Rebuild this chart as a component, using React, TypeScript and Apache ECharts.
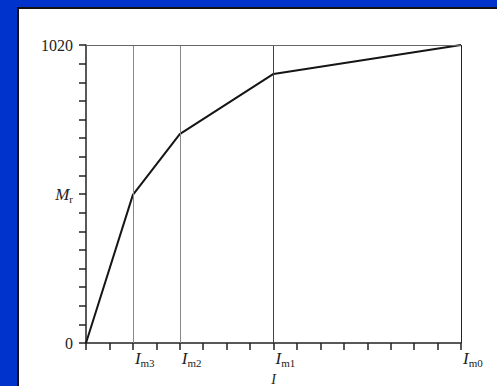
import React, { useEffect, useRef } from "react";
import * as echarts from "echarts";

const currentValues = [0, 2, 4, 8, 16];
const torqueValues = [0, 507, 715, 921, 1020];
const markerPositions = [2, 4, 8, 16];
const markerSubscripts = ["m3", "m2", "m1", "m0"];
const yMax = 1020;
const yTickCount = 16;
const xMax = 16;

export default function App() {
  const ref = useRef<HTMLDivElement>(null);
  useEffect(() => {
    document.body.style.margin = "0";
    const chart = echarts.init(ref.current!, null, { renderer: "svg" });
    const serif = "Liberation Serif";
    const rich = {
      i: { fontFamily: serif, fontStyle: "italic", fontSize: 17, color: "#222" },
      s: { fontFamily: serif, fontSize: 11, color: "#222", padding: [9, 0, 0, 0] },
    };
    chart.setOption({
      animation: false,
      backgroundColor: "#0033cc",
      graphic: [
        { type: "rect", shape: { x: 17, y: 7, width: 490, height: 390 }, style: { fill: "#111" }, z: -10 },
        { type: "rect", shape: { x: 19, y: 9, width: 490, height: 390 }, style: { fill: "#ffffff" }, z: -9 },
      ],
      grid: { left: 86, top: 45, right: 36, bottom: 43, outerBoundsMode: "none", containLabel: false },
      xAxis: {
        type: "value",
        min: 0,
        max: xMax,
        interval: 1,
        name: "I",
        nameLocation: "middle",
        nameGap: 28,
        nameTextStyle: { fontFamily: serif, fontStyle: "italic", fontSize: 14, lineHeight: 14, color: "#222" },
        axisLine: { lineStyle: { color: "#222", width: 1.5 } },
        axisTick: { length: 7, lineStyle: { color: "#222", width: 1.5 } },
        splitLine: { show: false },
        axisLabel: {
          margin: 5,
          align: "left",
          padding: [0, 0, 0, 2],
          rich,
          formatter: (v: number) => {
            const k = markerPositions.indexOf(v);
            return k >= 0 ? `{i|I}{s|${markerSubscripts[k]}}` : "";
          },
        },
      },
      yAxis: {
        type: "value",
        min: 0,
        max: yMax,
        interval: yMax / yTickCount,
        axisLine: { show: true, lineStyle: { color: "#222", width: 1.5 } },
        axisTick: { show: true, length: 7, lineStyle: { color: "#222", width: 1.5 } },
        splitLine: { show: false },
        axisLabel: {
          margin: 13,
          fontFamily: serif,
          fontSize: 16,
          color: "#222",
          rich,
          formatter: (v: number) => {
            if (v === 0) return "0";
            if (v === yMax) return "1020";
            if (v === yMax / 2) return "{i|M}{s|r}";
            return "";
          },
        },
      },
      series: [
        {
          type: "line",
          data: currentValues.map((x, i) => [x, torqueValues[i]]),
          symbol: "none",
          lineStyle: { color: "#151515", width: 2 },
          markLine: {
            silent: true,
            symbol: "none",
            label: { show: false },
            lineStyle: { color: "#777", width: 1, type: "solid" },
            data: [
              ...markerPositions.map((x) => ({
                xAxis: x,
                lineStyle: { color: x === xMax ? "#222" : x === 8 ? "#444" : "#888", width: 1 },
              })),
              { yAxis: yMax, lineStyle: { color: "#666", width: 1 } },
            ],
          },
        },
      ],
    });
    return () => chart.dispose();
  }, []);
  return <div ref={ref} style={{ width: 497, height: 386 }} />;
}
